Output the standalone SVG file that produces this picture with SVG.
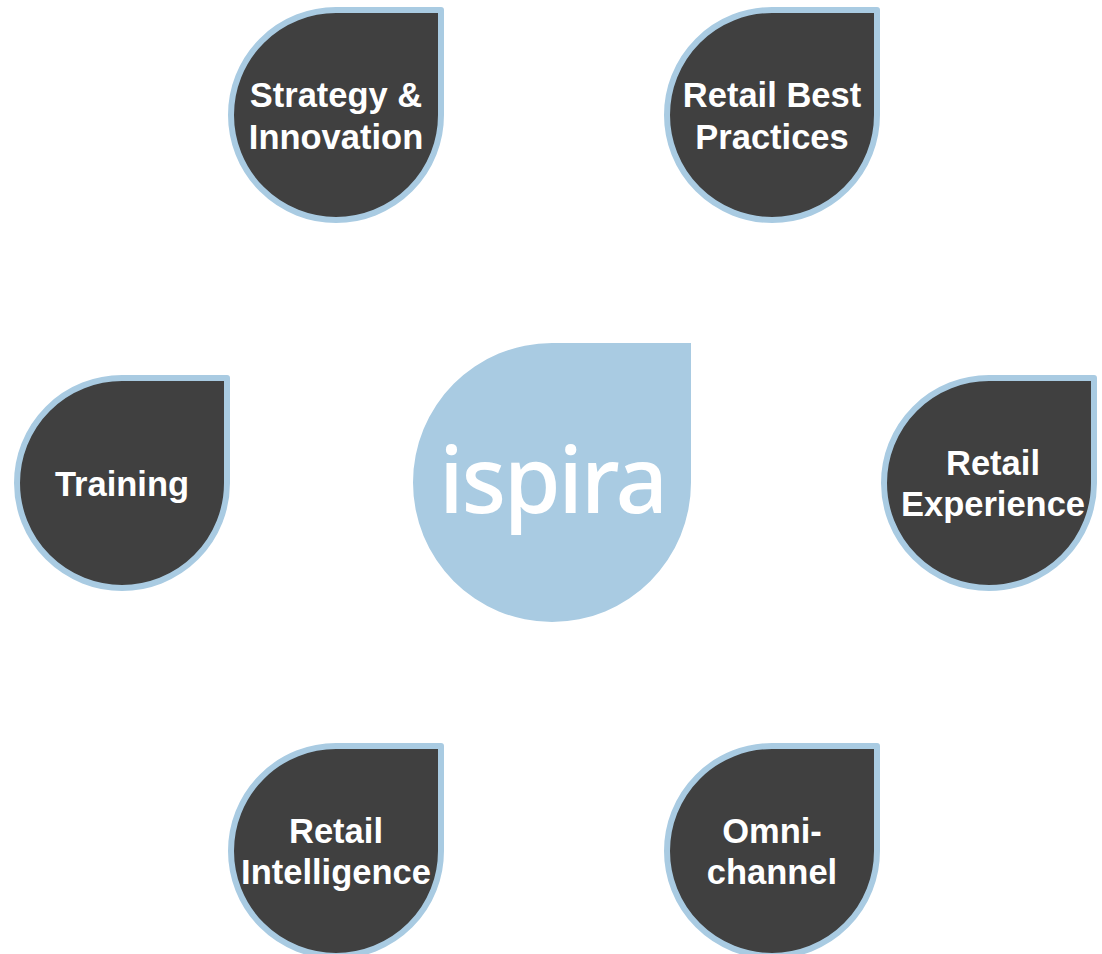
<svg xmlns="http://www.w3.org/2000/svg" width="1102" height="954" viewBox="0 0 1102 954">
<style>
.drop{fill:#404040;stroke:#a9cbe2;stroke-width:6;stroke-linejoin:round}
.t{font-family:"Liberation Sans",Arial,sans-serif;font-weight:700;font-size:34.5px;fill:#fff;text-anchor:middle}
.logo{font-family:"Noto Sans","Open Sans",sans-serif;font-weight:500;font-size:92px;fill:#fff}
</style>
<defs>
<path id="d" d="M0,-105H105V0A105,105 0 1 1 0,-105Z"/>
</defs>
<rect width="1102" height="954" fill="#fff"/>
<g id="connectors"/>
<g id="logo">
<path d="M552,343H691V482.500A139,139.500 0 1 1 552,343Z" fill="#a9cbe2"/>
<text class="logo" x="439" y="513" textLength="229" lengthAdjust="spacing">ispira</text>
</g>
<g id="strategy"><use href="#d" class="drop" x="336" y="115"/><text class="t" x="336" y="107">Strategy &amp;</text><text class="t" x="336" y="149">Innovation</text></g>
<g id="best-practices"><use href="#d" class="drop" x="772" y="115"/><text class="t" x="772" y="107">Retail Best</text><text class="t" x="772" y="149">Practices</text></g>
<g id="training"><use href="#d" class="drop" x="122" y="483"/><text class="t" x="122" y="496">Training</text></g>
<g id="experience"><use href="#d" class="drop" x="989" y="483"/><text class="t" x="993" y="475">Retail</text><text class="t" x="993" y="516">Experience</text></g>
<g id="intelligence"><use href="#d" class="drop" x="336" y="851"/><text class="t" x="336" y="843">Retail</text><text class="t" x="336" y="884">Intelligence</text></g>
<g id="omni"><use href="#d" class="drop" x="772" y="851"/><text class="t" x="772" y="843">Omni-</text><text class="t" x="772" y="884">channel</text></g>
</svg>
